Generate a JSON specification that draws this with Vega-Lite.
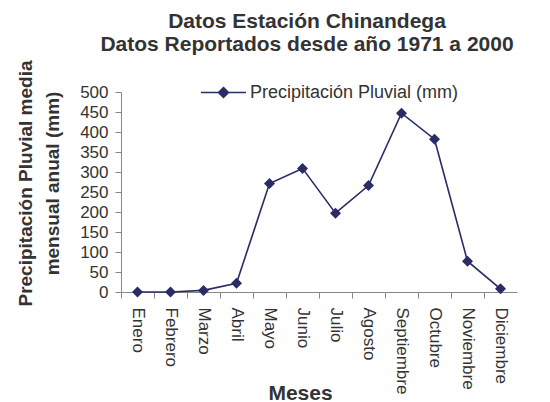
{
  "$schema": "https://vega.github.io/schema/vega-lite/v6.json",
  "autosize": "none",
  "width": 396,
  "height": 200,
  "padding": {"left": 121, "top": 92, "right": 33, "bottom": 110},
  "background": "white",
  "title": {
    "text": ["Datos Estación Chinandega", "Datos Reportados desde año 1971 a 2000"],
    "font": "Liberation Sans",
    "fontSize": 21,
    "fontWeight": "bold",
    "color": "#333333",
    "lineHeight": 23,
    "anchor": "middle",
    "dx": -12,
    "offset": 5
  },
  "config": {
    "font": "Liberation Sans",
    "view": {"stroke": null},
    "axis": {
      "domainColor": "#888888",
      "tickColor": "#888888",
      "labelColor": "#333333",
      "titleColor": "#333333",
      "labelFont": "Liberation Sans",
      "titleFont": "Liberation Sans",
      "grid": false
    }
  },
  "data": {
    "values": [
      {"mes": "Enero", "orden": 1, "precipitacion": 0},
      {"mes": "Febrero", "orden": 2, "precipitacion": 0},
      {"mes": "Marzo", "orden": 3, "precipitacion": 4},
      {"mes": "Abril", "orden": 4, "precipitacion": 22},
      {"mes": "Mayo", "orden": 5, "precipitacion": 271},
      {"mes": "Junio", "orden": 6, "precipitacion": 309},
      {"mes": "Julio", "orden": 7, "precipitacion": 197},
      {"mes": "Agosto", "orden": 8, "precipitacion": 266},
      {"mes": "Septiembre", "orden": 9, "precipitacion": 447},
      {"mes": "Octubre", "orden": 10, "precipitacion": 382},
      {"mes": "Noviembre", "orden": 11, "precipitacion": 77},
      {"mes": "Diciembre", "orden": 12, "precipitacion": 8}
    ]
  },
  "encoding": {
    "x": {
      "field": "mes",
      "type": "ordinal",
      "sort": {"field": "orden"},
      "scale": {"type": "band", "paddingInner": 0, "paddingOuter": 0},
      "axis": {
        "title": "Meses",
        "titleFontSize": 21,
        "titleFontWeight": "bold",
        "titleX": 179,
        "titleY": 107,
        "titleAlign": "center",
        "titleBaseline": "alphabetic",
        "bandPosition": 0,
        "tickSize": 6,
        "labelAngle": 90,
        "labelAlign": "left",
        "labelBaseline": "middle",
        "labelFontSize": 17,
        "labelPadding": 9,
        "labelBound": false,
        "labelOverlap": false
      }
    },
    "y": {
      "field": "precipitacion",
      "type": "quantitative",
      "scale": {"domain": [0, 500], "nice": false, "zero": true},
      "axis": {
        "title": ["Precipitación Pluvial media", "mensual anual (mm)"],
        "titleFontSize": 19,
        "titleFontWeight": "bold",
        "titleLineHeight": 27,
        "titleAngle": -90,
        "titleAlign": "center",
        "titleBaseline": "top",
        "titleX": -105,
        "titleY": 91,
        "values": [0, 50, 100, 150, 200, 250, 300, 350, 400, 450, 500],
        "tickSize": 6,
        "labelFontSize": 17,
        "labelPadding": 7
      }
    }
  },
  "layer": [
    {
      "mark": {"type": "line", "strokeWidth": 1.6},
      "encoding": {
        "color": {
          "datum": "Precipitación Pluvial (mm)",
          "type": "nominal",
          "scale": {"range": ["#2B2B66"]},
          "legend": {
            "title": null,
            "orient": "none",
            "legendX": 79,
            "legendY": -23,
            "padding": 0,
            "symbolType": "M-1,0L1,0M0,-0.22L0.22,0L0,0.22L-0.22,0Z",
            "symbolSize": 2025,
            "symbolStrokeWidth": 1.6,
            "symbolFillColor": "#2B2B66",
            "symbolStrokeColor": "#2B2B66",
            "labelFontSize": 18,
            "labelLimit": 400,
            "labelColor": "#333333",
            "labelOffset": 3,
            "labelFont": "Liberation Sans"
          }
        }
      }
    },
    {
      "mark": {"type": "point", "shape": "diamond", "filled": true, "size": 120, "color": "#2B2B66", "opacity": 1},
      "encoding": {}
    }
  ]
}
